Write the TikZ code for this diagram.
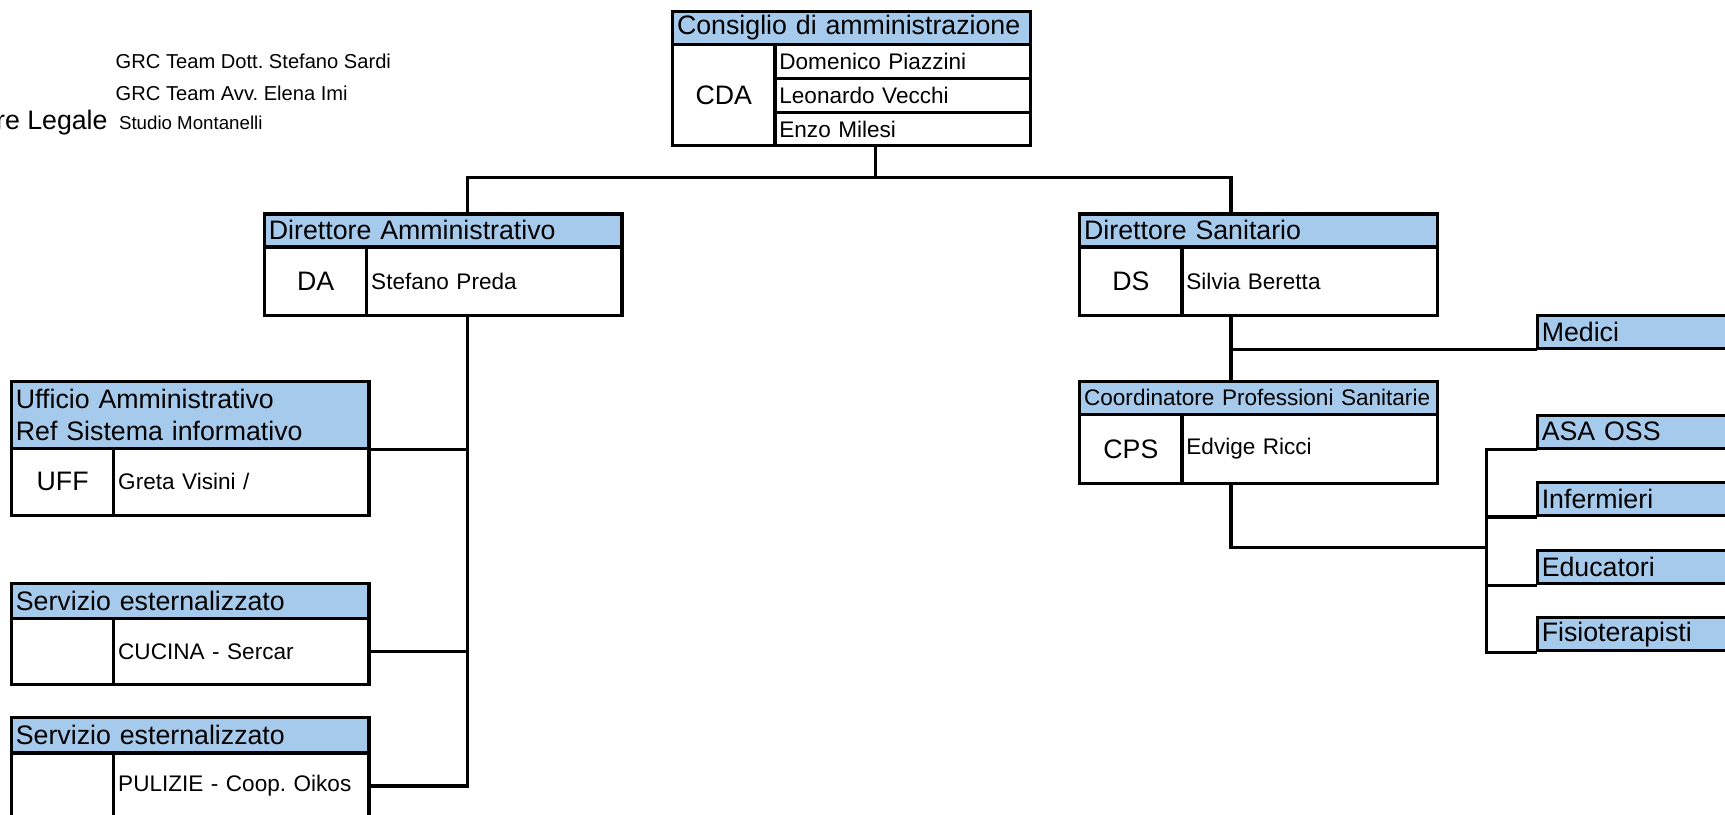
\documentclass[tikz,border=0pt]{standalone}
\usepackage{fontspec}
\setmainfont{Liberation Sans}
\definecolor{cellblue}{RGB}{166,202,236}
\newcommand\hfont{\fontsize{24.3}{29.5}\selectfont}
\newcommand\nfont{\fontsize{20.5}{24}\selectfont}
\newcommand\gfont{\fontsize{18.3}{22}\selectfont}
\frenchspacing
\begin{document}
\begin{tikzpicture}
            [
                x=1pt, y=-1pt,
                cell/.style={draw, line width=2.9pt, anchor=north west, inner xsep=4pt, inner ysep=0pt},
                headbox/.style={cell, fill=cellblue, minimum width=325pt, text width=317pt, minimum height=#1, font=\hfont},
                tagbox/.style={cell, minimum width=93pt, minimum height=#1, font=\hfont, align=center},
                namebox/.style={cell, minimum width=232pt, text width=224pt, minimum height=#1, font=\nfont},
                rolebox/.style={cell, fill=cellblue, minimum width=250pt, text width=242pt, minimum height=30pt, font=\hfont},
                note/.style={inner sep=0pt, font=\gfont},
                link/.style={line width=2.9pt, line cap=rect, line join=miter}
            ]
            \useasboundingbox (0,0) rectangle (1568,740);
            % notes
            \node[note, anchor=base west] (grcA) at (105,62) {GRC Team Dott. Stefano Sardi};
            \node[note, anchor=base west] (grcB) at (105,91) {GRC Team Avv. Elena Imi};
            \node[note, anchor=base east, font=\hfont] (legale) at (98,118) {re Legale};
            \node[note, anchor=base west, font=\fontsize{17}{20}\selectfont] (studio) at (108,118) {Studio Montanelli};
            % CDA
            \node[headbox=30pt] (cdaH) at (610,9) {Consiglio di amministrazione};
            \node[tagbox=92pt] (cdaT) at (610,39) {CDA};
            \node[namebox=31pt] (cdaA) at (703,39) {Domenico Piazzini};
            \node[namebox=31pt] (cdaB) at (703,70) {Leonardo Vecchi};
            \node[namebox=30pt] (cdaC) at (703,101) {Enzo Milesi};
            % DA
            \node[headbox=30pt] (daH) at (239,193) {Direttore Amministrativo};
            \node[tagbox=62pt] (daT) at (239,223) {DA};
            \node[namebox=62pt] (daN) at (332,223) {Stefano Preda};
            % DS
            \node[headbox=30pt] (dsH) at (980,193) {Direttore Sanitario};
            \node[tagbox=62pt] (dsT) at (980,223) {DS};
            \node[namebox=62pt] (dsN) at (1073,223) {Silvia Beretta};
            % CPS
            \node[headbox=30pt, font=\nfont] (cpsH) at (980,345) {Coordinatore Professioni Sanitarie};
            \node[tagbox=63pt] (cpsT) at (980,375) {CPS};
            \node[namebox=63pt] (cpsN) at (1073,375) {Edvige Ricci};
            % UFF
            \node[headbox=61pt, align=left] (uffH) at (9,345) {Ufficio Amministrativo\\Ref Sistema informativo};
            \node[tagbox=61pt] (uffT) at (9,406) {UFF};
            \node[namebox=61pt] (uffN) at (102,406) {Greta Visini /};
            % servizi esternalizzati
            \node[headbox=32pt] (cucH) at (9,529) {Servizio esternalizzato};
            \node[tagbox=60pt] (cucT) at (9,561) {};
            \node[namebox=60pt] (cucN) at (102,561) {CUCINA - Sercar};
            \node[headbox=32pt] (pulH) at (9,651) {Servizio esternalizzato};
            \node[tagbox=60pt] (pulT) at (9,683) {};
            \node[namebox=60pt] (pulN) at (102,683) {PULIZIE - Coop. Oikos};
            % ruoli sanitari
            \node[rolebox] (medici) at (1396,285) {Medici};
            \node[rolebox] (asa) at (1396,376) {ASA OSS};
            \node[rolebox] (inf) at (1396,437) {Infermieri};
            \node[rolebox] (edu) at (1396,499) {Educatori};
            \node[rolebox] (fisio) at (1396,560) {Fisioterapisti};
            % links
            \coordinate (jTop) at (796,161);
            \coordinate (jDA) at (425,161);
            \coordinate (jDS) at (1119,161);
            \coordinate (jCPS) at (1351,498);
            \draw[link] (jTop |- cdaC.south) -- (jTop);
            \draw[link] (jDA |- daH.north) -- (jDA) -- (jDS) -- (jDS |- dsH.north);
            \draw[link] (jDA |- daN.south) -- (jDA |- pulN.east);
            \draw[link] (uffH.south east) -- (jDA |- uffH.south east);
            \draw[link] (cucN.east) -- (jDA |- cucN.east);
            \draw[link] (pulN.east) -- (jDA |- pulN.east);
            \draw[link] (jDS |- dsN.south) -- (jDS |- cpsH.north);
            \draw[link] (jDS |- medici.south) -- (medici.south west);
            \draw[link] (jDS |- cpsN.south) -- (jDS |- jCPS) -- (jCPS);
            \draw[link] (jCPS |- asa.south) -- (jCPS |- fisio.south);
            \foreach \r in {asa, inf, edu, fisio}
                \draw[link] (jCPS |- \r.south) -- (\r.south west);
        \end{tikzpicture}
\end{document}
